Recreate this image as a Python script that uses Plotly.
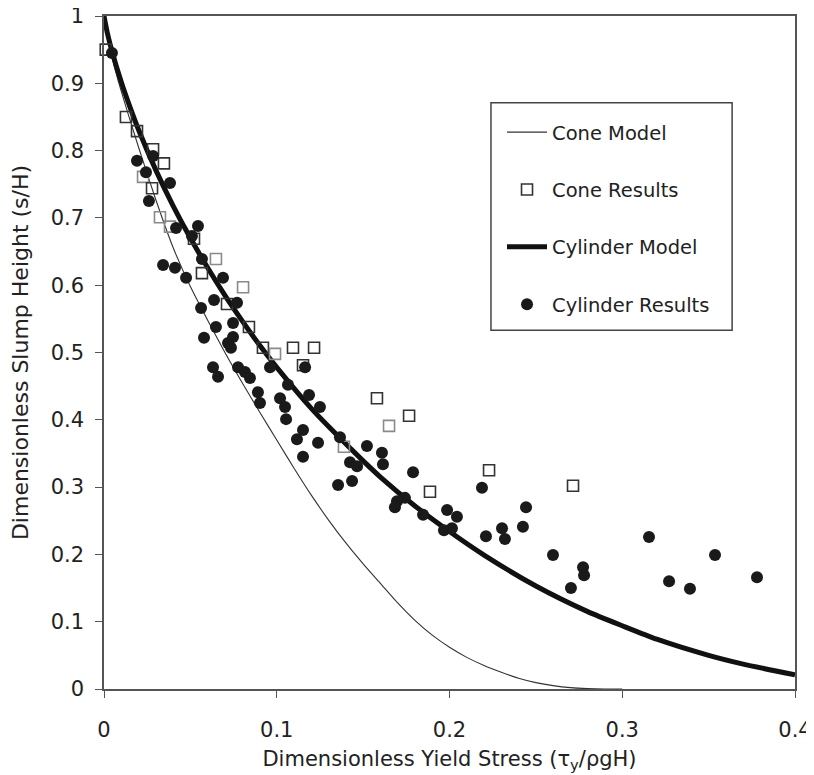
import plotly.graph_objects as go

# ---- data ----
cone_model_x = [0, 0.005, 0.01, 0.02, 0.03, 0.04, 0.05, 0.06, 0.07, 0.08, 0.09, 0.10,
                0.11, 0.12, 0.13, 0.14, 0.15, 0.16, 0.17, 0.18, 0.19, 0.20, 0.21, 0.22,
                0.23, 0.24, 0.25, 0.26, 0.27, 0.28, 0.29, 0.30]
cone_model_y = [1.0, 0.935, 0.888, 0.805, 0.727, 0.656, 0.598, 0.548, 0.500, 0.455, 0.412, 0.370,
                0.328, 0.288, 0.251, 0.217, 0.186, 0.157, 0.128, 0.102, 0.080, 0.062, 0.047, 0.035,
                0.025, 0.016, 0.0095, 0.005, 0.002, 0.0005, 0.0, 0.0]

cyl_model_x = [0, 0.002, 0.005, 0.01, 0.015, 0.02, 0.03, 0.04, 0.05, 0.06, 0.07, 0.08, 0.09,
               0.10, 0.12, 0.13, 0.15, 0.16, 0.18, 0.20, 0.22, 0.25, 0.28, 0.30, 0.32, 0.35, 0.37, 0.40]
cyl_model_y = [1.0, 0.974, 0.944, 0.902, 0.865, 0.831, 0.771, 0.718, 0.670, 0.626, 0.585, 0.547, 0.511,
               0.478, 0.417, 0.390, 0.339, 0.315, 0.272, 0.234, 0.199, 0.153, 0.115, 0.094, 0.074, 0.050, 0.037, 0.021]

cone_res_x = [0.001, 0.0127, 0.0191, 0.0284, 0.0347, 0.0226, 0.0278, 0.0324, 0.0382, 0.0521,
              0.0648, 0.0567, 0.0805, 0.0712, 0.0839, 0.0920, 0.0990, 0.1094, 0.1216, 0.1152,
              0.158, 0.1766, 0.165, 0.1389, 0.2229, 0.1887, 0.2715]
cone_res_y = [0.950, 0.850, 0.829, 0.802, 0.781, 0.761, 0.744, 0.701, 0.687, 0.669,
              0.639, 0.618, 0.597, 0.572, 0.538, 0.507, 0.498, 0.507, 0.507, 0.481,
              0.432, 0.406, 0.391, 0.360, 0.325, 0.293, 0.302]
cone_res_shade = ["d", "d", "d", "d", "d", "g", "d", "g", "g", "d",
                  "g", "d", "g", "d", "d", "d", "g", "d", "d", "d",
                  "d", "d", "g", "g", "d", "d", "d"]

cyl_res_x = [0.0046, 0.0191, 0.0284, 0.0243, 0.0382, 0.0260, 0.0417, 0.0544, 0.0509, 0.0567,
             0.0342, 0.0411, 0.0475, 0.0689, 0.0637, 0.0770, 0.0562, 0.0747, 0.0648, 0.0579,
             0.0747, 0.0718, 0.0735, 0.0631, 0.0660, 0.0776, 0.0816, 0.0845, 0.0961, 0.1164,
             0.1065, 0.0891, 0.0903, 0.1187, 0.1019, 0.1048, 0.1250, 0.1054, 0.1152, 0.1117,
             0.1239, 0.1152, 0.1366, 0.1424, 0.1465, 0.1522, 0.1609, 0.1615, 0.1789, 0.1436,
             0.1355, 0.1696, 0.1742, 0.1684, 0.1847, 0.1986, 0.2043, 0.1968, 0.2014, 0.2188,
             0.2211, 0.2304, 0.2321, 0.2425, 0.2443, 0.2599, 0.2773, 0.2779, 0.2703, 0.3155,
             0.3537, 0.3271, 0.3392, 0.3780]
cyl_res_y = [0.945, 0.785, 0.792, 0.768, 0.752, 0.725, 0.685, 0.688, 0.673, 0.639,
             0.630, 0.626, 0.611, 0.611, 0.578, 0.574, 0.566, 0.544, 0.538, 0.522,
             0.523, 0.514, 0.507, 0.478, 0.464, 0.478, 0.471, 0.462, 0.478, 0.478,
             0.452, 0.441, 0.425, 0.437, 0.432, 0.419, 0.419, 0.401, 0.385, 0.371,
             0.366, 0.345, 0.374, 0.337, 0.331, 0.361, 0.351, 0.334, 0.322, 0.309,
             0.303, 0.279, 0.284, 0.270, 0.259, 0.266, 0.256, 0.236, 0.239, 0.299,
             0.227, 0.239, 0.223, 0.241, 0.270, 0.199, 0.181, 0.169, 0.150, 0.226,
             0.199, 0.160, 0.149, 0.166]

x_ticks = [0, 0.1, 0.2, 0.3, 0.4]
x_tick_labels = ["0", "0.1", "0.2", "0.3", "0.4"]
y_ticks = [0, 0.1, 0.2, 0.3, 0.4, 0.5, 0.6, 0.7, 0.8, 0.9, 1.0]
y_tick_labels = ["0", "0.1", "0.2", "0.3", "0.4", "0.5", "0.6", "0.7", "0.8", "0.9", "1"]

FONT = "DejaVu Sans, Liberation Sans, Arial, sans-serif"
TXT = "#222222"
shade_map = {"d": "#333333", "g": "#8a8a8a"}

fig = go.Figure()

fig.add_trace(go.Scatter(
    x=cone_model_x, y=cone_model_y, mode="lines", name="Cone Model",
    line=dict(color="#333333", width=1.1, shape="spline", smoothing=0.6),
    legendgroup="a", legendrank=1))

fig.add_trace(go.Scatter(
    x=cyl_model_x, y=cyl_model_y, mode="lines", name="Cylinder Model",
    line=dict(color="#111111", width=5, shape="spline", smoothing=0.6),
    legendgroup="c", legendrank=3))

fig.add_trace(go.Scatter(
    x=cone_res_x, y=cone_res_y, mode="markers", name="Cone Results",
    marker=dict(symbol="square-open", size=11, color=[shade_map[s] for s in cone_res_shade],
                line=dict(width=1.6)),
    cliponaxis=False, legendgroup="b", legendrank=2))

fig.add_trace(go.Scatter(
    x=cyl_res_x, y=cyl_res_y, mode="markers", name="Cylinder Results",
    marker=dict(symbol="circle", size=12, color="#1a1a1a", line=dict(width=0)),
    cliponaxis=False, legendgroup="d", legendrank=4))

axis_common = dict(
    showline=True, linecolor="#555555", linewidth=1.5, mirror=True,
    ticks="outside", ticklen=7, tickwidth=1.2, tickcolor="#555555",
    showgrid=False, zeroline=False, automargin=False,
    ticklabeloverflow="allow",
    tickfont=dict(family=FONT, size=21, color=TXT),
)

# legend frame (paper coordinates)
fig.add_shape(type="rect", xref="paper", yref="paper",
              x0=0.560, x1=0.909, y0=0.533, y1=0.871,
              line=dict(color="#444444", width=1.5), fillcolor="rgba(0,0,0,0)", layer="below")

fig.update_layout(
    width=814, height=775,
    margin=dict(l=96, r=27, t=8, b=94),
    paper_bgcolor="white", plot_bgcolor="white",
    font=dict(family=FONT, color=TXT),
    xaxis=dict(range=[0, 0.4], tickvals=x_ticks, ticktext=x_tick_labels,
               title=dict(text="Dimensionless Yield Stress (τ<sub>y</sub>/ρgH)",
                          font=dict(family=FONT, size=21, color=TXT), standoff=10),
               ticklabelstandoff=14, **axis_common),
    yaxis=dict(range=[0, 1], tickvals=y_ticks, ticktext=y_tick_labels,
               title=dict(text="Dimensionless Slump Height (s/H)",
                          font=dict(family=FONT, size=22, color=TXT), standoff=16),
               ticklabelstandoff=7, **axis_common),
    showlegend=True,
    legend=dict(x=0.576, y=0.856, xanchor="left", yanchor="top",
                bgcolor="rgba(0,0,0,0)", borderwidth=0,
                font=dict(family=FONT, size=19.5, color=TXT),
                tracegroupgap=29, itemwidth=40,
                traceorder="grouped"),
)

fig.write_html("out.html")
